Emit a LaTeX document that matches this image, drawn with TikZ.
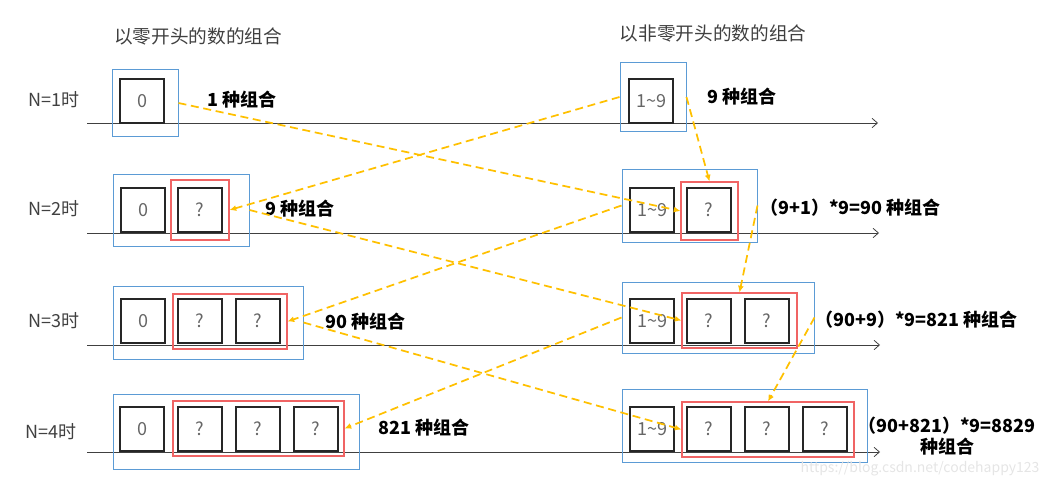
\documentclass[tikz,border=0pt]{standalone}
\usepackage{fontspec}
\setmainfont{Noto Sans CJK SC}
\usetikzlibrary{arrows.meta, fit, positioning}
\definecolor{grpblue}{HTML}{5B9BD5}
\definecolor{partred}{HTML}{F06464}
\definecolor{flowgold}{HTML}{FFC000}
\definecolor{txtgray}{HTML}{404040}

\begin{document}
\begin{tikzpicture}[
  x=0.75pt, y=-0.75pt,
  every node/.style={font=\fontsize{13.5}{16}\selectfont},
  cell/.style={draw=black!85, line width=1.5pt, minimum size=33pt, inner sep=0pt, text=black!60},
  grp/.style={draw=grpblue, line width=0.75pt, inner sep=0pt},
  part/.style={draw=partred, line width=0.8pt, inner sep=0pt},
  title/.style={text=txtgray, font=\fontsize{14}{17}\selectfont},
  rowlbl/.style={text=txtgray},
  count/.style={anchor=west, inner sep=0pt, font=\bfseries\fontsize{13.5}{16}\selectfont},
  flow/.style={-{Latex[length=5pt, width=4.5pt]}, flowgold, line width=1.3pt, dash pattern=on 6pt off 3.5pt},
  axis/.style={-{Straight Barb[length=4pt, width=7pt]}, txtgray, line width=0.6pt}
]
\useasboundingbox (0,0) rectangle (1059,478);

% titles
\node[title] (tzero) at (198,36) {以零开头的数的组合};
\node[title] (tnonzero) at (713,33) {以非零开头的数的组合};

% row labels
\node[rowlbl] (n1) at (54,100) {N=1时};
\node[rowlbl] (n2) at (54,209) {N=2时};
\node[rowlbl] (n3) at (54,321) {N=3时};
\node[rowlbl] (n4) at (51,432) {N=4时};

% axes
\draw[axis] (87,123) -- (878,123);
\draw[axis] (87,233) -- (879,233);
\draw[axis] (87,345) -- (880,345);
\draw[axis] (87,452) -- (880,452);

% groups (blue) and tails (red)
\node[grp, fit={(112,70) (178,136)}] (L1) {};
\node[grp, fit={(113,174) (249,246)}] (L2) {};
\node[grp, fit={(113,286) (303,359)}] (L3) {};
\node[grp, fit={(113,394) (359,469)}] (L4) {};
\node[grp, fit={(620,63) (686,131)}] (R1) {};
\node[grp, fit={(622,169) (757,242)}] (R2) {};
\node[grp, fit={(622,282) (814,353)}] (R3) {};
\node[grp, fit={(622,389) (867,462)}] (R4) {};

\node[part, fit={(171,180) (229,240)}] (LR2) {};
\node[part, fit={(173,294) (287,349)}] (LR3) {};
\node[part, fit={(173,401) (344,456)}] (LR4) {};
\node[part, fit={(681,182) (738,240)}] (RR2) {};
\node[part, fit={(682,293) (797,348)}] (RR3) {};
\node[part, fit={(682,402) (854,457)}] (RR4) {};

% digits, left column
\node[cell] (L1a) at (142,101) {0};
\node[cell] (L2a) at (143,210) {0};
\node[cell] (L2b) at (200,210) {?};
\node[cell] (L3a) at (143,321) {0};
\node[cell] (L3b) at (200,321) {?};
\node[cell] (L3c) at (258,321) {?};
\node[cell] (L4a) at (142,429) {0};
\node[cell] (L4b) at (200,429) {?};
\node[cell] (L4c) at (258,429) {?};
\node[cell] (L4d) at (316,429) {?};

% digits, right column
\node[cell] (R1a) at (651,101) {1\textasciitilde 9};
\node[cell] (R2a) at (652,210) {1\textasciitilde 9};
\node[cell] (R2b) at (709,210) {?};
\node[cell] (R3a) at (652,321) {1\textasciitilde 9};
\node[cell] (R3b) at (709,321) {?};
\node[cell] (R3c) at (767,321) {?};
\node[cell] (R4a) at (652,429) {1\textasciitilde 9};
\node[cell] (R4b) at (709,429) {?};
\node[cell] (R4c) at (767,429) {?};
\node[cell] (R4d) at (825,429) {?};

% counts
\node[count] (cL1) at (207,100) {1 种组合};
\node[count] (cR1) at (707,97) {9 种组合};
\node[count] (cL2) at (265,209) {9 种组合};
\node[count] (cR2) at (760,208) {（9+1）*9=90 种组合};
\node[count] (cL3) at (325,322) {90 种组合};
\node[count] (cR3) at (815,320) {（90+9）*9=821 种组合};
\node[count] (cL4) at (378,428) {821 种组合};
\node[count, align=center, anchor=center] (cR4) at (947,436) {（90+821）*9=8829\\种组合};

\node[text=black!10, inner sep=0pt, font=\fontsize{10.5}{12}\selectfont] (wm) at (920,469) {https://blog.csdn.net/codehappy123};

% flows
\draw[flow] (L1.east) -- (RR2.west);
\draw[flow] (R1.west) -- (LR2.east);
\draw[flow] (R1.east) -- (RR2.north);
\draw[flow] (L2.east) -- (RR3.west);
\draw[flow] (R2.west) -- (LR3.east);
\draw[flow] (R2.east) -- (RR3.north);
\draw[flow] (L3.east) -- (RR4.west);
\draw[flow] (R3.west) -- (LR4.east);
\draw[flow] (R3.east) -- (RR4.north);
\end{tikzpicture}
\end{document}
